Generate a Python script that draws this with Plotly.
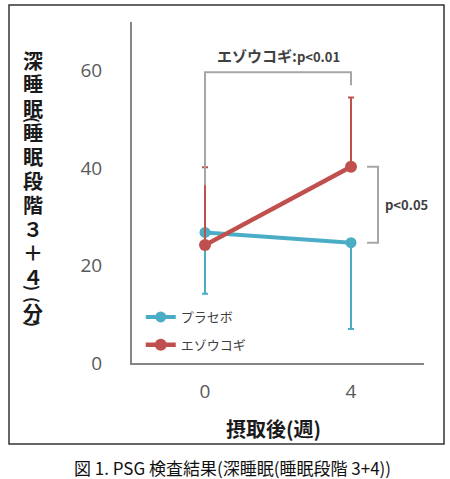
import plotly.graph_objects as go

# data
weeks = ["0", "4"]
placebo_mean = [26.8, 24.7]
placebo_sd = [12.6, 17.7]
ezoukogi_mean = [24.2, 40.3]
ezoukogi_sd = [16.0, 14.2]

y_ticks = [0, 20, 40, 60]
y_title_chars = ["深", "睡", "眠", "(", "睡", "眠", "段", "階", "３", "＋", "４", ")", "(", "分", ")"]

# significance bracket levels (in data units)
bracket_top = 59.7
bracket_left_end = 36.5
bracket_right_end = 57.0

BLUE = "#4BACC6"
RED = "#C0504D"
GRAY_TEXT = "#404040"
BRACKET = "#A6A6A6"
CJK = "Noto Sans CJK JP"

# plot area in page pixels
L, R, T, B = 132, 424, 22, 363


def px(xp):
    return (xp - L) / (R - L)


def py(yp):
    return (B - yp) / (B - T)


x = list(range(len(weeks)))

fig = go.Figure()
fig.add_trace(go.Scatter(
    x=x, y=placebo_mean, name="プラセボ", mode="lines+markers",
    line=dict(color=BLUE, width=4),
    marker=dict(color=BLUE, size=11),
    error_y=dict(type="data", symmetric=False, array=[0] * len(x), arrayminus=placebo_sd,
                 color=BLUE, thickness=2, width=3),
    legendgroup="a",
))
fig.add_trace(go.Scatter(
    x=x, y=ezoukogi_mean, name="エゾウコギ", mode="lines+markers",
    line=dict(color=RED, width=4.5),
    marker=dict(color=RED, size=12),
    error_y=dict(type="data", symmetric=False, array=ezoukogi_sd, arrayminus=[0] * len(x),
                 color=RED, thickness=2, width=3),
    legendgroup="b",
))

# brackets
line = dict(color=BRACKET, width=2)
fig.add_shape(type="path", xref="x", yref="y", line=line,
              path=f"M {x[0]},{bracket_left_end} L {x[0]},{bracket_top} L {x[1]},{bracket_top} L {x[1]},{bracket_right_end}")
fig.add_shape(type="path", xref="x", yref="y", line=line,
              path=f"M {x[1] + 0.11},{ezoukogi_mean[1]} L {x[1] + 0.185},{ezoukogi_mean[1]} "
                   f"L {x[1] + 0.185},{placebo_mean[1]} L {x[1] + 0.11},{placebo_mean[1]}")

fig.add_annotation(x=(x[0] + x[1]) / 2, y=bracket_top, xref="x", yref="y", yanchor="bottom", yshift=4,
                   text="<b><span style='font-size:15px'>エゾウコギ:</span>p<0.01</b>", showarrow=False,
                   font=dict(family=CJK, size=13, color=GRAY_TEXT))
fig.add_annotation(x=x[1] + 0.38, y=(ezoukogi_mean[1] + placebo_mean[1]) / 2, xref="x", yref="y",
                   xanchor="center", yanchor="middle",
                   text="<b>p<0.05</b>", showarrow=False,
                   font=dict(family=CJK, size=13, color=GRAY_TEXT))

# vertical y-axis title, one glyph per step (parentheses are turned and take half a step)
y_pos = 60
prev_half = False
for i, ch in enumerate(y_title_chars):
    half = ch in "()"
    if i > 0:
        y_pos += 12 if (half or prev_half) else 24
    fig.add_annotation(x=px(33), y=py(y_pos), xref="paper", yref="paper", text=f"<b>{ch}</b>",
                       xanchor="center", yanchor="middle", textangle=90 if half else 0,
                       showarrow=False, font=dict(family=CJK, size=16 if half else 20, color="#1a1a1a"))
    prev_half = half

fig.add_annotation(x=px(273), y=py(428), xref="paper", yref="paper", xanchor="center", yanchor="middle",
                   text="<b>摂取後(週)</b>", showarrow=False,
                   font=dict(family=CJK, size=20, color="#1a1a1a"))
fig.add_annotation(x=px(232), y=py(467), xref="paper", yref="paper", xanchor="center", yanchor="middle",
                   text="図 1. PSG 検査結果(深睡眠(睡眠段階 3+4))", showarrow=False,
                   font=dict(family=CJK, size=17, color="#111111"))

# chart frame
fig.add_shape(type="rect", xref="paper", yref="paper",
              x0=px(9), x1=px(444), y0=py(444), y1=py(5),
              line=dict(color="#333333", width=1.5))

fig.update_layout(
    width=450, height=479,
    margin=dict(l=L, r=450 - R, t=T, b=479 - B),
    paper_bgcolor="white", plot_bgcolor="white",
    showlegend=True,
    legend=dict(x=0.03, y=py(302), xanchor="left", yanchor="top", traceorder="grouped",
                tracegroupgap=8, bgcolor="rgba(0,0,0,0)",
                font=dict(family=CJK, size=13, color=GRAY_TEXT)),
    xaxis=dict(range=[-0.5, 1.5], tickvals=x, ticktext=weeks, showgrid=False, zeroline=False,
               showline=True, linecolor="#868686", linewidth=2, ticks="", ticklabelstandoff=10,
               tickfont=dict(family="Open Sans", size=19, color="#595959")),
    yaxis=dict(range=[0, 70], tickvals=y_ticks, showgrid=False, zeroline=False,
               showline=True, linecolor="#868686", linewidth=2, ticks="", ticklabelstandoff=24,
               tickfont=dict(family="Open Sans", size=19, color="#595959")),
)

# drop the default body margin so the figure fills the window exactly
fig.write_html("out.html", config={"displayModeBar": False},
               post_script="document.body.style.margin = '0';")
